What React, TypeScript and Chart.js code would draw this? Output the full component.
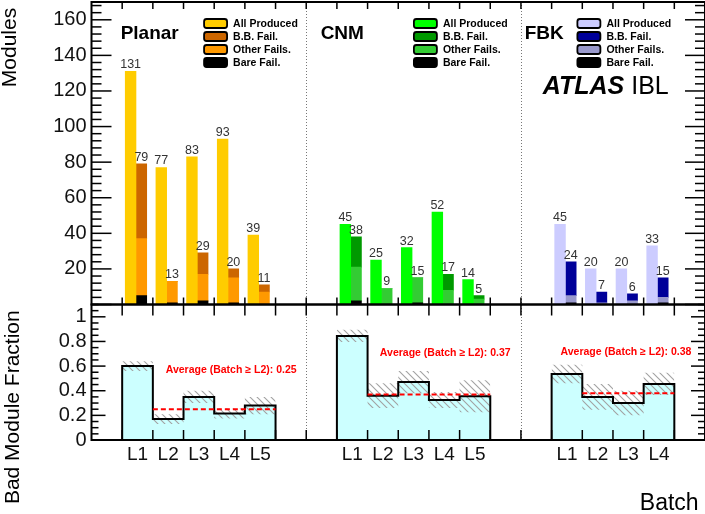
import { useEffect, useRef } from 'react';
import { Chart, registerables } from 'chart.js';

// Register Chart.js components
Chart.register(...registerables);

const FONT = "'Liberation Sans', Arial, Helvetica, sans-serif";
Chart.defaults.font.family = FONT;
Chart.defaults.color = '#000';

// ---- values ----
const planarBatches = ['L1', 'L2', 'L3', 'L4', 'L5'];
const cnmBatches = ['L1', 'L2', 'L3', 'L4', 'L5'];
const fbkBatches = ['L1', 'L2', 'L3', 'L4'];

// modules per batch (upper pad)
const planarProduced = [131, 77, 83, 93, 39];
const planarBBFail = [42, 0, 12, 5, 4];
const planarOtherFail = [32, 12, 15, 14, 7];
const planarBareFail = [5, 1, 2, 1, 0];

const cnmProduced = [45, 25, 32, 52, 14];
const cnmBBFail = [17, 0, 0, 9, 2];
const cnmOtherFail = [19, 9, 14, 8, 3];
const cnmBareFail = [2, 0, 1, 0, 0];

const fbkProduced = [45, 20, 20, 33];
const fbkBBFail = [19, 6, 4, 11];
const fbkOtherFail = [4, 1, 2, 3];
const fbkBareFail = [1, 0, 0, 1];

// bad module fraction (lower pad) and its error band
const planarFraction = [0.6, 0.17, 0.35, 0.215, 0.28];
const planarFractionErr = [0.04, 0.04, 0.05, 0.04, 0.07];
const cnmFraction = [0.845, 0.36, 0.47, 0.325, 0.355];
const cnmFractionErr = [0.05, 0.1, 0.09, 0.065, 0.13];
const fbkFraction = [0.535, 0.35, 0.3, 0.455];
const fbkFractionErr = [0.075, 0.105, 0.1, 0.09];
const averageFraction = [0.25, 0.37, 0.38];

const legendLabels = ['All Produced', 'B.B. Fail.', 'Other Fails.', 'Bare Fail.'];

// ---- layout on the 0..20 batch axis ----
const FIRST_BIN = [1, 8, 15];
const SEPARATORS = [7, 14];
const TITLE_X = [0.95, 7.47, 14.12];
const LEGEND_X = [3.67, 10.51, 15.84];
const AVG_TEXT_POS = [[2.42, 0.568], [9.4, 0.702], [15.29, 0.715]];

const COLORS = [
  { produced: '#ffcc00', bb: '#cc6600', other: '#ff9900' },
  { produced: '#00ff00', bb: '#009900', other: '#33cc33' },
  { produced: '#ccccff', bb: '#000099', other: '#9999cc' },
];
const BARE_COLOR = '#000000';

const vendors = [
  { name: 'Planar', batches: planarBatches, produced: planarProduced, bb: planarBBFail, other: planarOtherFail, bare: planarBareFail, frac: planarFraction, err: planarFractionErr, avg: averageFraction[0] },
  { name: 'CNM', batches: cnmBatches, produced: cnmProduced, bb: cnmBBFail, other: cnmOtherFail, bare: cnmBareFail, frac: cnmFraction, err: cnmFractionErr, avg: averageFraction[1] },
  { name: 'FBK', batches: fbkBatches, produced: fbkProduced, bb: fbkBBFail, other: fbkOtherFail, bare: fbkBareFail, frac: fbkFraction, err: fbkFractionErr, avg: averageFraction[2] },
];

const batchTicks = vendors.flatMap((v, vi) =>
  v.batches.map((b, i) => ({ value: FIRST_BIN[vi] + i + 0.5, label: b }))
);

// histogram contour: value held over each bin
function steps(first: number, vals: number[]) {
  const pts: { x: number; y: number }[] = [];
  vals.forEach((v, i) => {
    pts.push({ x: first + i, y: v }, { x: first + i + 1, y: v });
  });
  return pts;
}

function makeHatch(): CanvasPattern | string {
  const c = document.createElement('canvas');
  c.width = 7;
  c.height = 7;
  const g = c.getContext('2d');
  if (!g) return '#bbb';
  g.strokeStyle = '#a2a2a2';
  g.lineWidth = 1.1;
  g.beginPath();
  g.moveTo(-1, -1); g.lineTo(8, 8);
  g.moveTo(-1, 6); g.lineTo(1, 8);
  g.moveTo(6, -1); g.lineTo(8, 1);
  g.stroke();
  return g.createPattern(c, 'repeat') || '#bbb';
}

function buildDatasets(hatch: CanvasPattern | string) {
  const ds: any[] = [];
  vendors.forEach((v, vi) => {
    const f = FIRST_BIN[vi];
    const col = COLORS[vi];
    const barBase = { type: 'bar', xAxisID: 'x', yAxisID: 'y', grouped: false, categoryPercentage: 1, barPercentage: 1, borderWidth: 0, order: 0, vendor: vi };
    const atAll = (arr: number[]) => arr.map((y, i) => ({ x: f + i + 0.275, y }));
    const atFail = (arr: number[]) => arr.map((y, i) => ({ x: f + i + 0.625, y }));
    const failTotal = v.bb.map((b, i) => b + v.other[i] + v.bare[i]);
    ds.push({ ...barBase, label: legendLabels[0], role: 0, data: atAll(v.produced), backgroundColor: col.produced, topLabels: v.produced });
    ds.push({ ...barBase, label: legendLabels[3], role: 3, data: atFail(v.bare), backgroundColor: BARE_COLOR });
    ds.push({ ...barBase, label: legendLabels[2], role: 2, data: atFail(v.other), backgroundColor: col.other });
    ds.push({ ...barBase, label: legendLabels[1], role: 1, data: atFail(v.bb), backgroundColor: col.bb, topLabels: failTotal });

    const n = v.frac.length;
    const contour = [{ x: f, y: 0 }, ...steps(f, v.frac), { x: f + n, y: 0 }];
    const lineBase = { type: 'line', xAxisID: 'x', yAxisID: 'y2', pointRadius: 0, tension: 0 };
    ds.push({ ...lineBase, data: contour, borderWidth: 0, borderColor: 'rgba(0,0,0,0)', backgroundColor: '#ccffff', fill: 'origin', order: 4 });
    ds.push({ ...lineBase, data: steps(f, v.frac.map((p, i) => p - v.err[i])), borderWidth: 0, borderColor: 'rgba(0,0,0,0)', fill: false, order: 3 });
    ds.push({ ...lineBase, data: steps(f, v.frac.map((p, i) => p + v.err[i])), borderWidth: 0, borderColor: 'rgba(0,0,0,0)', backgroundColor: hatch, fill: '-1', order: 3 });
    ds.push({ ...lineBase, data: contour, borderWidth: 2, borderColor: '#000', borderJoinStyle: 'miter', fill: false, order: 2 });
    ds.push({ ...lineBase, data: [{ x: f + 1, y: v.avg }, { x: f + n, y: v.avg }], borderWidth: 2, borderColor: '#ff0000', borderDash: [5, 3], fill: false, order: 1 });
  });
  return ds;
}

const decor = {
  id: 'iblDecor',
  afterDraw(chart: any) {
    const { ctx } = chart;
    const xs = chart.scales.x;
    const yt = chart.scales.y;
    const yb = chart.scales.y2;
    const px = (v: number) => xs.getPixelForValue(v);
    const L = xs.left;
    const R = xs.right;
    const seg = (x1: number, y1: number, x2: number, y2: number) => {
      ctx.beginPath(); ctx.moveTo(x1, y1); ctx.lineTo(x2, y2); ctx.stroke();
    };
    ctx.save();

    // dotted vendor separators
    ctx.strokeStyle = '#777';
    ctx.lineWidth = 1;
    ctx.setLineDash([1, 2]);
    SEPARATORS.forEach((s) => {
      const p = Math.round(px(s)) + 0.5;
      seg(p, yt.top, p, yb.bottom);
    });
    ctx.setLineDash([]);

    // ticks
    ctx.strokeStyle = '#000';
    ctx.lineWidth = 1.5;
    for (let i = 0; i * 4 <= yt.max; i++) {
      const p = yt.getPixelForValue(i * 4);
      const len = i % 5 === 0 ? 20 : 10;
      seg(L, p, L + len, p);
      seg(R, p, R - len, p);
    }
    for (let i = 0; i * 0.05 <= yb.max + 1e-9; i++) {
      const p = yb.getPixelForValue(i * 0.05);
      const len = i % 4 === 0 ? 14 : 7;
      seg(L, p, L + len, p);
      seg(R, p, R - len, p);
    }
    for (let k = 1; k < 20; k++) {
      const p = px(k);
      seg(p, yt.top, p, yt.top + 7);
      seg(p, yt.bottom, p, yt.bottom - 7);
      seg(p, yb.top, p, yb.top + 11);
      seg(p, yb.bottom, p, yb.bottom - 10);
    }

    // pad frames
    ctx.lineWidth = 2;
    ctx.strokeRect(L, yt.top, R - L, yt.bottom - yt.top);
    ctx.strokeRect(L, yb.top, R - L, yb.bottom - yb.top);

    // numbers above the bars
    ctx.fillStyle = '#333';
    ctx.font = `12.5px ${FONT}`;
    ctx.textAlign = 'center';
    ctx.textBaseline = 'alphabetic';
    chart.data.datasets.forEach((d: any, di: number) => {
      if (!d.topLabels) return;
      chart.getDatasetMeta(di).data.forEach((el: any, i: number) => {
        ctx.fillText(String(d.topLabels[i]), el.x, el.y - 3);
      });
    });

    // vendor titles and legends
    vendors.forEach((v, vi) => {
      ctx.fillStyle = '#000';
      ctx.textAlign = 'left';
      ctx.textBaseline = 'alphabetic';
      ctx.font = `bold 19px ${FONT}`;
      ctx.fillText(v.name, px(TITLE_X[vi]), yt.top + 37);

      const entries = chart.data.datasets
        .filter((d: any) => d.type === 'bar' && d.vendor === vi)
        .sort((a: any, b: any) => a.role - b.role);
      const lx = px(LEGEND_X[vi]);
      ctx.font = `bold 10.5px ${FONT}`;
      ctx.textBaseline = 'middle';
      entries.forEach((d: any, r: number) => {
        const cy = yt.top + 21.5 + r * 13;
        ctx.beginPath();
        ctx.roundRect(lx, cy - 4.5, 23, 9, 2.5);
        ctx.fillStyle = d.backgroundColor;
        ctx.fill();
        ctx.lineWidth = 1.8;
        ctx.strokeStyle = '#000';
        ctx.stroke();
        ctx.fillStyle = '#000';
        ctx.fillText(d.label, lx + 29, cy + 0.5);
      });

      // average annotation in the lower pad
      ctx.fillStyle = '#ff0000';
      ctx.font = `bold 10.5px ${FONT}`;
      const [tx, ty] = AVG_TEXT_POS[vi];
      ctx.fillText(`Average (Batch \u2265 L2): ${v.avg.toFixed(2)}`, px(tx), yb.getPixelForValue(ty));
    });

    // experiment label
    ctx.fillStyle = '#000';
    ctx.textBaseline = 'alphabetic';
    ctx.font = `italic bold 25px ${FONT}`;
    const ax = px(14.71);
    const ay = yt.top + 92;
    ctx.fillText('ATLAS', ax, ay);
    const w = ctx.measureText('ATLAS').width;
    ctx.font = `25px ${FONT}`;
    ctx.fillText('IBL', ax + w + 7, ay);

    ctx.restore();
  },
};

export default function App() {
  const canvasRef = useRef<HTMLCanvasElement>(null);
  const chartRef = useRef<Chart | null>(null);

  useEffect(() => {
    document.body.style.margin = '0';
    if (!canvasRef.current) return;

    if (chartRef.current) {
      chartRef.current.destroy();
    }

    const ctx = canvasRef.current.getContext('2d');
    if (ctx) {
      chartRef.current = new Chart(ctx, {
        type: 'bar',
        data: { datasets: buildDatasets(makeHatch()) },
        options: {
          animation: false,
          responsive: true,
          maintainAspectRatio: false,
          events: [],
          layout: { padding: { top: 2, left: 0, right: 0, bottom: 0 } },
          plugins: {
            legend: { display: false },
            tooltip: { enabled: false },
          },
          scales: {
            x: {
              type: 'linear',
              min: 0,
              max: 20,
              offset: false,
              grid: { display: false, drawTicks: false, offset: false },
              border: { display: false },
              afterBuildTicks: (scale: any) => {
                scale.ticks = batchTicks.map((t) => ({ value: t.value }));
              },
              ticks: {
                autoSkip: false,
                maxRotation: 0,
                padding: 3,
                color: '#111',
                font: { size: 19 },
                callback: (_v: any, i: number) => batchTicks[i]?.label ?? '',
              },
              title: {
                display: true,
                text: 'Batch ',
                align: 'end',
                color: '#000',
                font: { size: 23, lineHeight: 1 },
                padding: { top: 0, bottom: -1 },
              },
              afterFit: (s: any) => {
                s.height = 74;
                s.paddingLeft = 0;
                s.paddingRight = 0;
              },
            },
            y: {
              type: 'linear',
              position: 'left',
              stack: 'pads',
              stackWeight: 302.5,
              weight: 2,
              stacked: true,
              min: 0,
              max: 170,
              grid: { display: false, drawTicks: false },
              border: { display: false },
              ticks: {
                stepSize: 20,
                includeBounds: false,
                autoSkip: false,
                padding: 5,
                color: '#111',
                font: { size: 20 },
                callback: (v: any) => (v === 0 ? '' : String(v)),
              },
              title: {
                display: true,
                text: 'Modules ',
                align: 'end',
                color: '#000',
                font: { size: 21, lineHeight: 1 },
                padding: { top: 0, bottom: 0 },
              },
              afterFit: (s: any) => {
                s.width = 91.5;
                s.paddingTop = 0;
                s.paddingBottom = 0;
              },
            },
            y2: {
              type: 'linear',
              position: 'left',
              stack: 'pads',
              stackWeight: 135.5,
              weight: 1,
              min: 0,
              max: 1.1,
              grid: { display: false, drawTicks: false },
              border: { display: false },
              ticks: {
                stepSize: 0.2,
                includeBounds: false,
                autoSkip: false,
                padding: 5,
                color: '#111',
                font: { size: 20 },
                callback: (v: any) => {
                  const n = Number(v);
                  if (Math.abs(n) < 1e-9) return '0';
                  if (Math.abs(n - 1) < 1e-9) return '1';
                  return n.toFixed(1);
                },
              },
              title: {
                display: true,
                text: 'Bad Module Fraction ',
                align: 'end',
                color: '#000',
                font: { size: 21, lineHeight: 1 },
                padding: { top: 2.5, bottom: 0 },
              },
              afterFit: (s: any) => {
                s.width = 91.5;
                s.paddingTop = 0;
                s.paddingBottom = 0;
              },
            },
          },
        } as any,
        plugins: [decor as any],
      });
    }

    // Cleanup on unmount
    return () => {
      if (chartRef.current) {
        chartRef.current.destroy();
        chartRef.current = null;
      }
    };
  }, []);

  return (
    <div style={{ position: 'relative', width: 705, height: 514 }}>
      <canvas ref={canvasRef}></canvas>
    </div>
  );
}
